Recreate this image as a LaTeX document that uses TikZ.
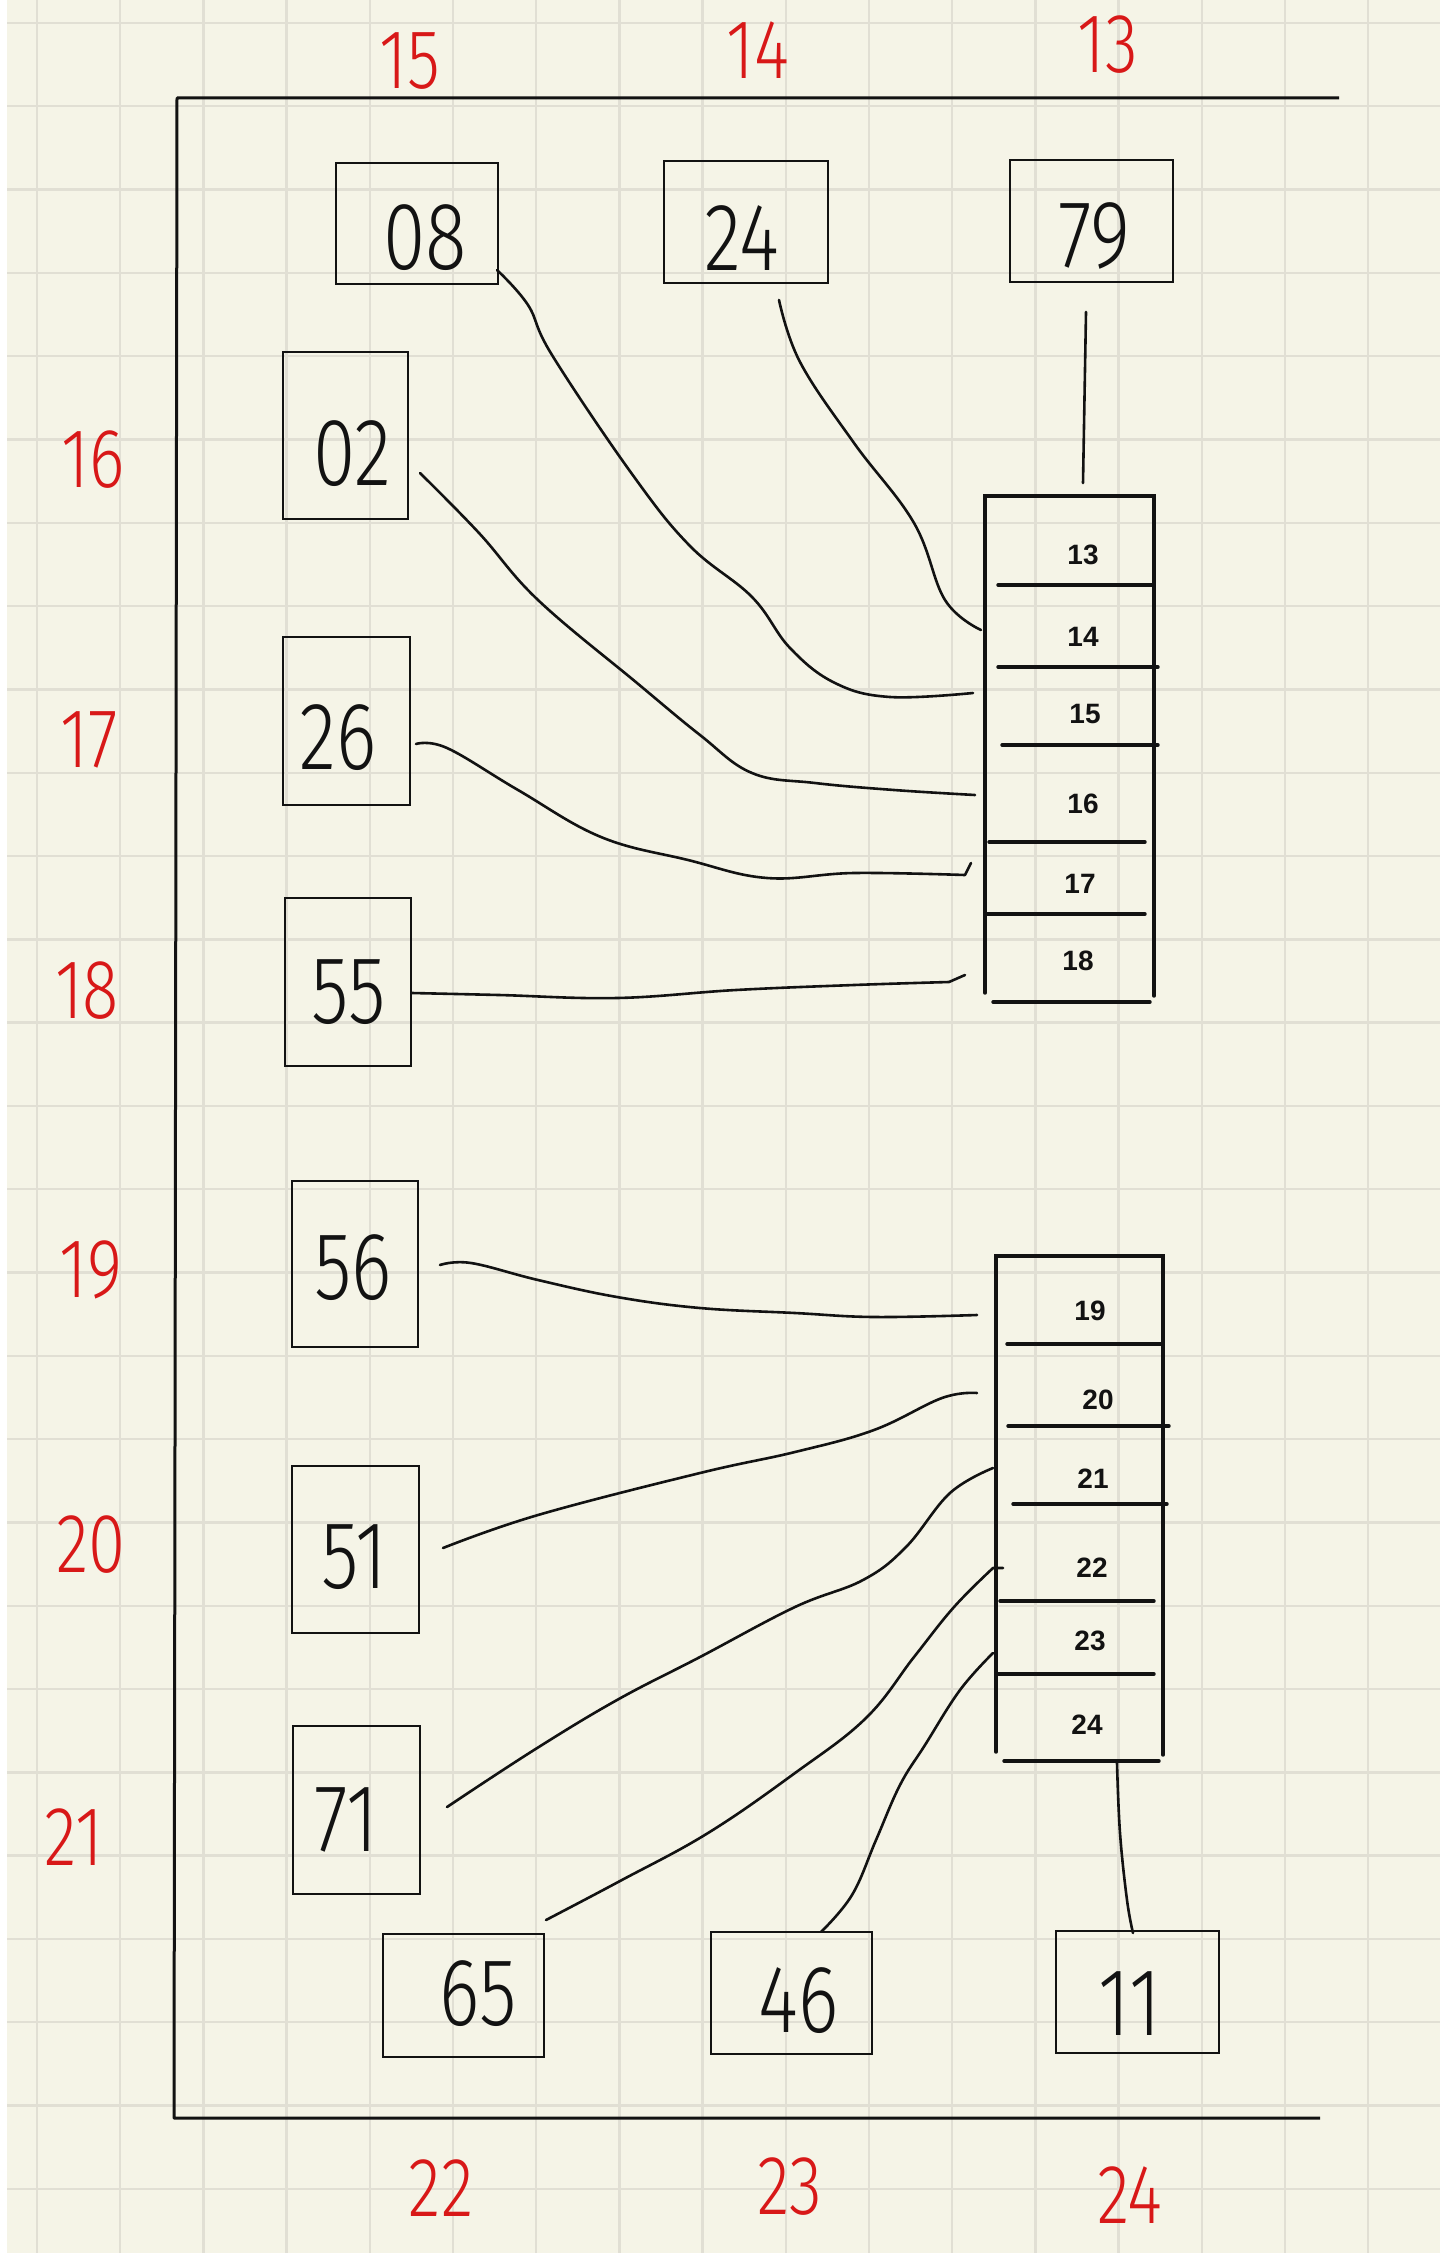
\documentclass[tikz,border=0pt]{standalone}
\usepackage{fontspec}
\setmainfont{Liberation Sans}
\newfontfamily\hand[FakeStretch=0.8]{Fira Sans Light}
\newfontfamily\handb{Liberation Sans}
\definecolor{paper}{RGB}{245,244,231}
\definecolor{gridc}{RGB}{225,223,212}
\definecolor{ink}{RGB}{18,18,18}
\definecolor{redink}{RGB}{216,24,24}
\newcommand\mkbox[5]{%
  \node[box, minimum width={(#4-#2)*0.5pt}, minimum height={(#5-#3)*0.5pt}] (#1) at ({(#2+#4)/2},{(#3+#5)/2}) {};}
\begin{document}
\begin{tikzpicture}[x=0.5pt,y=-0.5pt,
  box/.style={draw=ink, line width=1pt, inner sep=0pt, outer sep=0pt},
  num/.style={font=\hand\fontsize{48}{48}\selectfont, text=ink, inner sep=0pt},
  lab/.style={font=\hand\fontsize{42}{42}\selectfont, text=redink, inner sep=0pt},
  cell/.style={font=\handb\bfseries\fontsize{14}{14}\selectfont, text=ink, inner sep=0pt},
  wire/.style={draw=ink, line width=1.3pt, line cap=round, line join=round},
  frame/.style={draw=ink, line width=1.5pt, line join=round},
  sline/.style={draw=ink, line width=1.7pt, line cap=round}]

\useasboundingbox (0,0) rectangle (1440,2253);
\fill[paper] (0,0) rectangle (1440,2253);
\fill[white] (0,0) rectangle (7,2253);
\foreach \k in {0,...,16} \draw[gridc, line width=1.2pt] ({37+83.2*\k},0) -- ({37+83.2*\k},2253);
\foreach \k in {0,...,26} \draw[gridc, line width=1.2pt] (7,{23+83.3*\k}) -- (1440,{23+83.3*\k});

% frame
\draw[frame] (1339,98) -- (177,98) -- (174,2118) -- (1320,2118);

% red labels
\node[lab] (l15) at (410,61) {15};
\node[lab] (l14) at (758,50) {14};
\node[lab] (l13) at (1108,45) {13};
\node[lab] (l16) at (93,460) {16};
\node[lab] (l17) at (89,740) {17};
\node[lab] (l18) at (87,991) {18};
\node[lab] (l19) at (91,1270) {19};
\node[lab] (l20) at (91,1545) {20};
\node[lab] (l21) at (74,1837) {21};
\node[lab] (l22) at (441,2188) {22};
\node[lab] (l23) at (790,2187) {23};
\node[lab] (l24) at (1130,2195) {24};

% boxes
\mkbox{b08}{336}{163}{498}{284}
\mkbox{b24}{664}{161}{828}{283}
\mkbox{b79}{1010}{160}{1173}{282}
\mkbox{b02}{283}{352}{408}{519}
\mkbox{b26}{283}{637}{410}{805}
\mkbox{b55}{285}{898}{411}{1066}
\mkbox{b56}{292}{1181}{418}{1347}
\mkbox{b51}{292}{1466}{419}{1633}
\mkbox{b71}{293}{1726}{420}{1894}
\mkbox{b65}{383}{1934}{544}{2057}
\mkbox{b46}{711}{1932}{872}{2054}
\mkbox{b11}{1056}{1931}{1219}{2053}

\node[num] (n08) at (425,238) {08};
\node[num] (n24) at (742,238) {24};
\node[num] (n79) at (1094,236) {79};
\node[num] (n02) at (352,454) {02};
\node[num] (n26) at (338,738) {26};
\node[num] (n55) at (349,992) {55};
\node[num] (n56) at (353,1268) {56};
\node[num] (n51) at (354,1557) {51};
\node[num] (n71) at (346,1820) {71};
\node[num] (n65) at (478,1994) {65};
\node[num] (n46) at (799,2001) {46};
\node[num] (n11) at (1130,2004) {11};

% stack 1
\draw[sline] (985,993) -- (985,496) -- (1154,496) -- (1154,996);
\draw[sline] (998,585) -- (1152,585);
\draw[sline] (998,667) -- (1158,667);
\draw[sline] (1002,745) -- (1158,745);
\draw[sline] (989,842) -- (1145,842);
\draw[sline] (986,914) -- (1145,914);
\draw[sline] (993,1002) -- (1150,1002);
\node[cell] (c13) at (1083,555) {13};
\node[cell] (c14) at (1083,637) {14};
\node[cell] (c15) at (1085,714) {15};
\node[cell] (c16) at (1083,804) {16};
\node[cell] (c17) at (1080,884) {17};
\node[cell] (c18) at (1078,961) {18};

% stack 2
\draw[sline] (996,1752) -- (996,1256) -- (1163,1256) -- (1163,1755);
\draw[sline] (1007,1344) -- (1163,1344);
\draw[sline] (1008,1426) -- (1169,1426);
\draw[sline] (1013,1504) -- (1167,1504);
\draw[sline] (1000,1601) -- (1154,1601);
\draw[sline] (998,1674) -- (1154,1674);
\draw[sline] (1004,1761) -- (1159,1761);
\node[cell] (c19) at (1090,1311) {19};
\node[cell] (c20) at (1098,1400) {20};
\node[cell] (c21) at (1093,1479) {21};
\node[cell] (c22) at (1092,1568) {22};
\node[cell] (c23) at (1090,1641) {23};
\node[cell] (c24) at (1087,1725) {24};

% connector end points
\coordinate (s08) at (497,270);
\coordinate (s24) at (779,300);
\coordinate (s79) at (1086,312);
\coordinate (s02) at (420,473);
\coordinate (s26) at (416,744);
\coordinate (s55) at (412,993);
\coordinate (s56) at (440,1265);
\coordinate (s51) at (443,1548);
\coordinate (s71) at (447,1807);
\coordinate (s65) at (546,1920);
\coordinate (s46) at (821,1932);
\coordinate (s11) at (1133,1933);
\coordinate (e13) at (1083,483);
\coordinate (e14) at (981,630);
\coordinate (e15) at (973,693);
\coordinate (e16) at (975,795);
\coordinate (e17) at (971,863);
\coordinate (e18) at (965,975);
\coordinate (e19) at (977,1315);
\coordinate (e20) at (977,1393);
\coordinate (e21) at (993,1468);
\coordinate (e22) at (1003,1568);
\coordinate (e23) at (993,1653);
\coordinate (e24) at (1117,1763);

% connectors
\draw[wire] plot[smooth, tension=0.65] coordinates {(s08) (528,305) (552,355) (632,474) (690,546) (752,597) (790,648) (835,683) (890,697) (e15)};
\draw[wire] plot[smooth, tension=0.65] coordinates {(s24) (800,362) (854,443) (914,523) (945,600) (e14)};
\draw[wire] (s79) -- (e13);
\draw[wire] plot[smooth, tension=0.65] coordinates {(s02) (479,533) (538,600) (637,683) (700,735) (752,773) (815,783) (894,790) (e16)};
\draw[wire] plot[smooth, tension=0.65] coordinates {(s26) (447,748) (518,790) (601,837) (688,860) (767,878) (854,873) (965,875)} -- (e17);
\draw[wire] plot[smooth, tension=0.65] coordinates {(s55) (499,995) (617,998) (736,990) (854,985) (949,982)} -- (e18);
\draw[wire] plot[smooth, tension=0.65] coordinates {(s56) (471,1263) (538,1280) (617,1297) (700,1308) (795,1313) (874,1317) (e19)};
\draw[wire] plot[smooth, tension=0.65] coordinates {(s51) (538,1515) (700,1473) (795,1452) (874,1430) (942,1398) (e20)};
\draw[wire] plot[smooth, tension=0.65] coordinates {(s71) (534,1750) (617,1700) (700,1657) (795,1607) (863,1580) (906,1547) (950,1493) (e21)};
\draw[wire] plot[smooth, tension=0.65] coordinates {(s65) (620,1881) (708,1833) (795,1773) (866,1718) (914,1657) (954,1607) (993,1568)} -- (e22);
\draw[wire] plot[smooth, tension=0.65] coordinates {(s46) (852,1895) (876,1840) (900,1785) (925,1745) (960,1690) (e23)};
\draw[wire] plot[smooth, tension=0.65] coordinates {(e24) (1120,1833) (1127,1900) (s11)};
\end{tikzpicture}
\end{document}
